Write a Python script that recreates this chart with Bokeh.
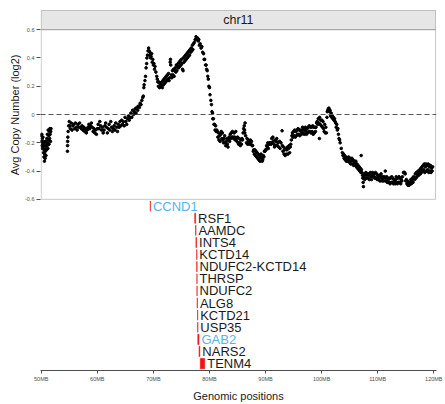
from bokeh.plotting import figure
from bokeh.models import (Range1d, FixedTicker, BoxAnnotation, Label, Span,
                          ColumnDataSource, Title)
from bokeh.transform import dodge
from bokeh.core.properties import value
from bokeh.embed import file_html
from bokeh.resources import INLINE

# ---------------------------------------------------------------------------
# Average copy number (log2) along chr11, position in megabases
# ---------------------------------------------------------------------------
pos_p_end = [50.02, 50.06, 50.1, 50.14, 50.18, 50.22, 50.26, 50.3, 50.34, 50.38,
             50.42, 50.46, 50.5, 50.54, 50.58, 50.62, 50.66, 50.7, 50.74, 50.78,
             50.82, 50.86, 50.9, 50.95, 51.0, 51.05, 51.1, 51.15, 51.2, 51.25,
             51.3, 51.35, 51.4, 51.45, 51.5, 51.55, 51.6, 51.65, 51.7, 51.75]
cn_p_end = [-0.15, -0.19, -0.14, -0.22, -0.17, -0.24, -0.2, -0.16, -0.23, -0.19,
            -0.27, -0.21, -0.3, -0.25, -0.33, -0.28, -0.22, -0.31, -0.26, -0.19,
            -0.24, -0.29, -0.2, -0.25, -0.17, -0.22, -0.14, -0.2, -0.24, -0.11,
            -0.18, -0.15, -0.21, -0.12, -0.17, -0.1, -0.14, -0.19, -0.12, -0.1]

pos_q_prox = [54.68, 54.7, 54.72, 54.75, 54.8, 54.9, 55.0, 55.1, 55.2, 55.35,
              55.5, 55.65, 55.8, 55.95, 56.1, 56.25, 56.4, 56.55, 56.7, 56.85,
              57.0, 57.15, 57.3, 57.45, 57.6, 57.75, 57.9, 58.05, 58.2, 58.35,
              58.5, 58.65, 58.8, 58.95, 59.1, 59.25, 59.4, 59.55, 59.7, 59.85,
              60.0, 60.15, 60.3, 60.45, 60.6, 60.75, 60.9, 61.05, 61.2, 61.35,
              61.5, 61.65, 61.8, 61.95, 62.1, 62.25, 62.4, 62.55, 62.7, 62.85,
              63.0, 63.15, 63.3, 63.45, 63.6, 63.75, 63.9, 64.05, 64.2, 64.35,
              64.5, 64.65, 64.8, 64.95, 65.1, 65.25, 65.4, 65.55, 65.7, 65.85,
              66.0, 66.15, 66.3, 66.45, 66.6, 66.75, 66.9, 67.05, 67.2, 67.35,
              67.5, 67.65, 67.8, 67.95, 68.1]
cn_q_prox = [-0.26, -0.22, -0.19, -0.16, -0.12, -0.08, -0.05, -0.08, -0.1, -0.06,
             -0.11, -0.08, -0.07, -0.1, -0.06, -0.09, -0.11, -0.07, -0.09, -0.06,
             -0.09, -0.1, -0.08, -0.11, -0.09, -0.12, -0.1, -0.13, -0.11, -0.09,
             -0.07, -0.1, -0.08, -0.06, -0.09, -0.12, -0.1, -0.13, -0.11, -0.14,
             -0.1, -0.07, -0.1, -0.05, -0.08, -0.11, -0.09, -0.13, -0.11, -0.08,
             -0.06, -0.09, -0.13, -0.1, -0.07, -0.11, -0.05, -0.09, -0.12, -0.1,
             -0.08, -0.11, -0.06, -0.09, -0.12, -0.07, -0.09, -0.05, -0.08, -0.04,
             -0.07, -0.05, -0.08, -0.02, -0.05, -0.07, -0.03, -0.01, -0.04, -0.02,
             0.01, -0.02, 0.03, 0.0, 0.02, 0.04, 0.01, 0.05, 0.03, 0.06,
             0.05, 0.08, 0.07, 0.1, 0.12]

pos_amplicon = [68.2, 68.3, 68.35, 68.5, 68.6, 68.7, 68.8, 68.85, 68.95, 69.05,
                69.15, 69.25, 69.3, 69.4, 69.5, 69.6, 69.7, 69.8, 69.9, 70.0,
                70.1, 70.2, 70.3, 70.45, 70.6, 70.7, 70.8, 70.9, 71.0, 71.1,
                71.2, 71.3, 71.4, 71.5, 71.6, 71.7, 71.8, 71.9, 72.0, 72.1,
                72.2, 72.3, 72.4, 72.5, 72.6, 72.7, 72.8, 72.9, 73.0, 73.05,
                73.1, 73.2, 73.3, 73.4, 73.5, 73.6, 73.7, 73.8, 73.9, 74.0,
                74.1, 74.2, 74.3, 74.4, 74.5, 74.6, 74.7, 74.8, 74.9, 75.0,
                75.1, 75.2, 75.3, 75.35, 75.45, 75.55, 75.65, 75.75, 75.85, 75.95,
                76.05, 76.15, 76.25, 76.35, 76.45, 76.55, 76.65, 76.75, 76.85, 76.95,
                77.05, 77.15, 77.3, 77.45, 77.6, 77.75, 77.9, 78.0, 78.1, 78.2,
                78.35, 78.5, 78.65, 78.8, 78.95, 79.05, 79.15, 79.3, 79.4, 79.5,
                79.6, 79.7, 79.8, 79.9, 80.0, 80.1, 80.25, 80.35, 80.45, 80.55,
                80.6, 80.7, 80.8, 80.9, 81.0, 81.1, 81.2, 81.3]
cn_amplicon = [0.13, 0.19, 0.21, 0.24, 0.27, 0.33, 0.36, 0.4, 0.42, 0.45,
               0.47, 0.45, 0.42, 0.44, 0.4, 0.41, 0.43, 0.37, 0.39, 0.35,
               0.36, 0.32, 0.34, 0.3, 0.27, 0.25, 0.23, 0.2, 0.23, 0.19,
               0.22, 0.2, 0.21, 0.23, 0.19, 0.24, 0.21, 0.25, 0.22, 0.26,
               0.23, 0.27, 0.24, 0.28, 0.25, 0.29, 0.24, 0.26, 0.37, 0.39,
               0.35, 0.28, 0.26, 0.31, 0.28, 0.32, 0.27, 0.31, 0.33, 0.3,
               0.35, 0.31, 0.34, 0.36, 0.33, 0.37, 0.34, 0.38, 0.35, 0.39,
               0.36, 0.32, 0.31, 0.4, 0.37, 0.41, 0.38, 0.42, 0.39, 0.43,
               0.4, 0.44, 0.41, 0.45, 0.42, 0.46, 0.44, 0.47, 0.45, 0.49,
               0.46, 0.5, 0.51, 0.53, 0.55, 0.53, 0.54, 0.52, 0.53, 0.49,
               0.5, 0.47, 0.48, 0.44, 0.43, 0.39, 0.39, 0.35, 0.35, 0.32,
               0.31, 0.27, 0.25, 0.2, 0.19, 0.14, 0.1, 0.07, 0.02, 0.01,
               -0.03, -0.03, -0.07, -0.07, -0.11, -0.08, -0.12, -0.11]

pos_q_mid = [81.4, 81.5, 81.6, 81.7, 81.8, 81.9, 82.0, 82.1, 82.2, 82.3,
             82.4, 82.5, 82.6, 82.7, 82.8, 82.9, 83.0, 83.1, 83.2, 83.3,
             83.4, 83.5, 83.6, 83.7, 83.8, 83.9, 84.0, 84.1, 84.2, 84.3,
             84.4, 84.5, 84.6, 84.7, 84.8, 84.9, 85.0, 85.1, 85.2, 85.3,
             85.4, 85.5, 85.6, 85.7, 85.8, 85.9, 86.0, 86.1, 86.2, 86.25,
             86.3, 86.35, 86.45, 86.6, 86.7, 86.8, 86.9, 87.0, 87.1, 87.2,
             87.3, 87.4, 87.5, 87.6, 87.7, 87.8, 87.9, 88.0, 88.1, 88.2,
             88.3, 88.4, 88.5, 88.6, 88.7, 88.8, 88.9, 89.0, 89.1, 89.2,
             89.3, 89.4, 89.5, 89.6, 89.7, 89.8, 89.9, 90.0, 90.1, 90.2,
             90.3, 90.4, 90.5, 90.6, 90.7, 90.8, 90.9, 91.0, 91.1, 91.2,
             91.3, 91.4, 91.5, 91.6, 91.7, 91.8, 91.9, 92.0, 92.1, 92.2,
             92.35, 92.5, 92.6, 92.75, 92.95, 93.0, 93.1, 93.2, 93.3, 93.4,
             93.5, 93.6, 93.7, 93.8, 93.9, 94.0, 94.1, 94.2, 94.3, 94.4,
             94.5, 94.6, 94.7, 94.8, 94.9, 95.0, 95.1, 95.2, 95.3, 95.4,
             95.5, 95.6, 95.7, 95.8, 95.9, 96.0, 96.1, 96.2, 96.3, 96.4,
             96.5, 96.6, 96.7, 96.8, 96.9, 97.0, 97.1, 97.2, 97.3, 97.4,
             97.5, 97.6, 97.7, 97.8, 97.9, 98.0, 98.1, 98.2, 98.3, 98.4,
             98.5, 98.6, 98.7, 98.8, 98.9]
cn_q_mid = [-0.12, -0.16, -0.13, -0.18, -0.15, -0.19, -0.14, -0.12, -0.17, -0.13,
            -0.18, -0.2, -0.17, -0.15, -0.2, -0.22, -0.19, -0.17, -0.21, -0.23,
            -0.18, -0.16, -0.19, -0.14, -0.17, -0.13, -0.16, -0.12, -0.16, -0.17,
            -0.13, -0.16, -0.18, -0.12, -0.17, -0.19, -0.16, -0.2, -0.21, -0.17,
            -0.2, -0.22, -0.18, -0.21, -0.17, -0.18, -0.13, -0.1, -0.08, -0.11,
            -0.13, -0.06, -0.15, -0.2, -0.17, -0.21, -0.18, -0.19, -0.21, -0.2,
            -0.18, -0.21, -0.19, -0.22, -0.22, -0.26, -0.25, -0.28, -0.25, -0.29,
            -0.26, -0.3, -0.27, -0.31, -0.28, -0.32, -0.29, -0.33, -0.3, -0.28,
            -0.31, -0.33, -0.32, -0.29, -0.3, -0.26, -0.26, -0.25, -0.25, -0.22,
            -0.23, -0.2, -0.24, -0.21, -0.21, -0.2, -0.2, -0.21, -0.17, -0.2,
            -0.16, -0.19, -0.21, -0.23, -0.18, -0.22, -0.19, -0.17, -0.22, -0.2,
            -0.23, -0.19, -0.24, -0.2, -0.115, -0.22, -0.26, -0.23, -0.28, -0.25,
            -0.29, -0.24, -0.28, -0.25, -0.23, -0.28, -0.24, -0.22, -0.27, -0.23,
            -0.21, -0.18, -0.15, -0.13, -0.16, -0.12, -0.15, -0.11, -0.16, -0.12,
            -0.15, -0.11, -0.14, -0.1, -0.14, -0.11, -0.15, -0.11, -0.12, -0.14,
            -0.11, -0.09, -0.13, -0.1, -0.14, -0.11, -0.09, -0.12, -0.14, -0.1,
            -0.13, -0.09, -0.12, -0.08, -0.12, -0.09, -0.13, -0.09, -0.12, -0.08,
            -0.14, -0.09, -0.13, -0.09, -0.12]

pos_q_dist = [99.0, 99.1, 99.2, 99.3, 99.4, 99.5, 99.6, 99.65, 99.75, 99.85,
              99.95, 100.05, 100.15, 100.25, 100.35, 100.45, 100.55, 100.65, 100.75, 100.85,
              100.95, 101.0, 101.1, 101.2, 101.3, 101.4, 101.5, 101.6, 101.7, 101.8,
              101.9, 102.0, 102.1, 102.2, 102.3, 102.4, 102.5, 102.6, 102.7, 102.8,
              102.9, 103.0, 103.1, 103.2, 103.3, 103.5, 103.7, 103.8, 103.9, 104.0,
              104.1, 104.2, 104.3, 104.4, 104.5, 104.6, 104.7, 104.8, 104.9, 105.0,
              105.1, 105.2, 105.3, 105.4, 105.5, 105.6, 105.7, 105.8, 105.9, 106.0,
              106.1, 106.2, 106.3, 106.4, 106.5, 106.6, 106.7, 106.8, 106.9, 107.0]
cn_q_dist = [-0.09, -0.06, -0.05, -0.07, -0.03, -0.06, -0.17, -0.02, -0.07, -0.04,
             -0.08, -0.04, -0.09, -0.05, -0.1, -0.12, -0.07, -0.13, -0.09, -0.13,
             -0.02, 0.02, 0.03, 0.04, 0.045, 0.02, 0.03, -0.01, 0.01, -0.02,
             -0.01, -0.03, -0.02, -0.04, -0.03, -0.05, -0.06, -0.09, -0.07, -0.11,
             -0.1, -0.14, -0.17, -0.18, -0.2, -0.24, -0.27, -0.29, -0.28, -0.31,
             -0.29, -0.32, -0.3, -0.33, -0.31, -0.33, -0.32, -0.3, -0.33, -0.34,
             -0.31, -0.35, -0.33, -0.31, -0.35, -0.32, -0.36, -0.33, -0.34, -0.36,
             -0.33, -0.37, -0.35, -0.38, -0.36, -0.39, -0.37, -0.4, -0.38, -0.41]

pos_q_ter = [107.05, 107.1, 107.2, 107.3, 107.35, 107.4, 107.45, 107.5, 107.6, 107.7,
             107.8, 107.9, 108.0, 108.1, 108.2, 108.3, 108.4, 108.5, 108.6, 108.7,
             108.8, 108.9, 109.0, 109.1, 109.2, 109.3, 109.4, 109.5, 109.6, 109.7,
             109.8, 109.9, 110.0, 110.1, 110.2, 110.3, 110.4, 110.5, 110.6, 110.7,
             110.8, 110.9, 111.0, 111.1, 111.2, 111.35, 111.4, 111.5, 111.6, 111.7,
             111.8, 111.9, 112.0, 112.1, 112.2, 112.3, 112.4, 112.5, 112.6, 112.7,
             112.8, 112.9, 113.0, 113.1, 113.2, 113.3, 113.4, 113.5, 113.6, 113.7,
             113.8, 113.9, 114.0, 114.1, 114.2, 114.3, 114.4, 114.6, 114.7, 114.8,
             114.9, 115.0, 115.1, 115.2, 115.3, 115.4, 115.5, 115.6, 115.7, 115.8,
             115.9, 116.0, 116.1, 116.2, 116.3, 116.4, 116.5, 116.6, 116.7, 116.8,
             116.9, 117.0, 117.1, 117.2, 117.3, 117.4, 117.5, 117.6, 117.7, 117.8,
             117.9, 118.0, 118.1, 118.2, 118.3, 118.4, 118.5, 118.6, 118.7, 118.8,
             118.9, 119.0, 119.1, 119.2, 119.3, 119.4, 119.5, 119.6, 119.7, 119.8]
cn_q_ter = [-0.29, -0.39, -0.41, -0.43, -0.45, -0.48, -0.51, -0.44, -0.42, -0.46,
            -0.43, -0.41, -0.45, -0.42, -0.43, -0.45, -0.42, -0.46, -0.43, -0.41,
            -0.44, -0.46, -0.43, -0.41, -0.44, -0.42, -0.44, -0.45, -0.41, -0.45,
            -0.42, -0.46, -0.43, -0.44, -0.46, -0.43, -0.47, -0.44, -0.42, -0.45,
            -0.47, -0.44, -0.45, -0.47, -0.44, -0.4, -0.45, -0.47, -0.44, -0.48,
            -0.45, -0.46, -0.48, -0.45, -0.49, -0.45, -0.48, -0.44, -0.48, -0.45,
            -0.49, -0.46, -0.47, -0.49, -0.46, -0.44, -0.48, -0.49, -0.45, -0.48,
            -0.44, -0.48, -0.45, -0.49, -0.46, -0.47, -0.44, -0.41, -0.41, -0.41,
            -0.42, -0.47, -0.46, -0.49, -0.47, -0.5, -0.48, -0.5, -0.48, -0.49,
            -0.46, -0.49, -0.47, -0.45, -0.48, -0.44, -0.45, -0.46, -0.42, -0.45,
            -0.41, -0.44, -0.42, -0.4, -0.43, -0.41, -0.39, -0.42, -0.38, -0.41,
            -0.37, -0.4, -0.36, -0.39, -0.35, -0.41, -0.37, -0.35, -0.4, -0.36,
            -0.39, -0.35, -0.41, -0.37, -0.4, -0.36, -0.41, -0.38, -0.4, -0.37]

# Genes annotated under the profile (start / end in Mb)
genes = ["CCND1", "RSF1", "AAMDC", "INTS4", "KCTD14", "NDUFC2-KCTD14", "THRSP",
         "NDUFC2", "ALG8", "KCTD21", "USP35", "GAB2", "NARS2", "TENM4"]
gene_start = [69.455, 77.377, 77.532, 77.589, 77.726, 77.734, 77.774,
              77.779, 77.812, 77.882, 77.899, 77.926, 78.147, 78.364]
gene_end = [69.469, 77.532, 77.589, 77.705, 77.753, 77.791, 77.779,
            77.791, 77.851, 77.900, 77.925, 78.129, 78.286, 79.152]
highlighted_genes = ["CCND1", "GAB2"]

x_ticks = [50, 60, 70, 80, 90, 100, 110, 120]
x_tick_labels = ["50MB", "60MB", "70MB", "80MB", "90MB", "100MB", "110MB", "120MB"]
y_ticks = [-0.6, -0.4, -0.2, 0.0, 0.2, 0.4, 0.6]
y_tick_labels = ["-0.6", "-0.4", "-0.2", "0", "0.2", "0.4", "0.6"]

# ---------------------------------------------------------------------------
FONT = "Liberation Sans"
BORDER = "#4d4d4d"
TICK_TEXT = "#4d4d4d"

positions = pos_p_end + pos_q_prox + pos_amplicon + pos_q_mid + pos_q_dist + pos_q_ter
copy_number = cn_p_end + cn_q_prox + cn_amplicon + cn_q_mid + cn_q_dist + cn_q_ter
assert len(positions) == len(copy_number)

p = figure(width=445, height=404, output_backend="svg", toolbar_location=None,
           x_range=Range1d(49.875, 120.481), y_range=Range1d(-1.8105, 0.7428),
           min_border_left=40, min_border_right=9, min_border_top=9,
           min_border_bottom=32)
p.outline_line_color = None
p.xgrid.visible = False
p.ygrid.visible = False
p.background_fill_color = "white"

# row index scale for the gene track (rows grow downwards)
p.extra_y_ranges = {"genes": Range1d(start=13.57, end=-16.23)}

# facet strip and panel frame
panel_right = 120.303
p.add_layout(BoxAnnotation(left=50, right=panel_right, bottom=0.6, top=0.7358,
                           fill_color="#e6e6e6", fill_alpha=1.0,
                           line_color=BORDER, line_width=1, level="underlay"))
p.add_layout(BoxAnnotation(left=50, right=panel_right, bottom=-0.6, top=0.6,
                           fill_alpha=0.0, line_color=BORDER, line_width=1))
p.add_layout(Label(x=(50 + panel_right) / 2, y=0.668, text="chr11",
                   text_align="center", text_baseline="middle",
                   text_font=FONT, text_font_size="12.5px", text_color="#1a1a1a"))

p.add_layout(Span(location=0, dimension="width", line_color="#555555",
                  line_width=1.1, line_dash="5 3"))

p.scatter(positions, copy_number, size=2.6, color="black", marker="circle")

# gene track
gene_colors = ["#56b4e9" if g in highlighted_genes else "#1a1a1a" for g in genes]
gsrc = ColumnDataSource(dict(gene=genes, start=gene_start, end=gene_end,
                             row=list(range(len(genes))), color=gene_colors))
p.quad(left="start", right="end", bottom=dodge("row", 0.42),
       top=dodge("row", -0.42), source=gsrc, y_range_name="genes",
       fill_color="#f01414", line_color="#f01414", line_width=0.6)
p.text(x="end", y="row", text="gene", source=gsrc, y_range_name="genes",
       x_offset=2.5, text_align="left", text_baseline="middle",
       text_font=value(FONT), text_font_size="13px", text_color="color")

# axes
xa = p.xaxis[0]
xa.ticker = FixedTicker(ticks=x_ticks)
xa.major_label_overrides = dict(zip(x_ticks, x_tick_labels))
xa.minor_tick_line_color = None
xa.major_tick_out = 3
xa.major_tick_in = 0
xa.major_label_standoff = 2
xa.axis_line_color = BORDER
xa.major_tick_line_color = BORDER
xa.major_label_text_font = FONT
xa.major_label_text_font_size = "5.5px"
xa.major_label_text_color = TICK_TEXT
xa.axis_label = "Genomic positions"
xa.axis_label_standoff = 5
xa.axis_label_text_font = FONT
xa.axis_label_text_font_size = "11px"
xa.axis_label_text_font_style = "normal"
xa.axis_label_text_color = "#1a1a1a"

ya = p.yaxis[0]
ya.ticker = FixedTicker(ticks=y_ticks)
ya.major_label_overrides = dict(zip(y_ticks, y_tick_labels))
ya.minor_tick_line_color = None
ya.major_tick_out = 4
ya.major_tick_in = 0
ya.major_label_standoff = 2
ya.axis_line_color = None
ya.major_tick_line_color = BORDER
ya.major_label_text_font = FONT
ya.major_label_text_font_size = "5.5px"
ya.major_label_text_color = TICK_TEXT

# y title sits against the upper (profile) panel only
p.add_layout(Title(text="Avg Copy Number (log2)", align="right", offset=45,
                   standoff=4, text_font=FONT, text_font_size="11px",
                   text_font_style="normal", text_color="#1a1a1a"), "left")

open("out.html", "w").write(file_html(p, INLINE))
